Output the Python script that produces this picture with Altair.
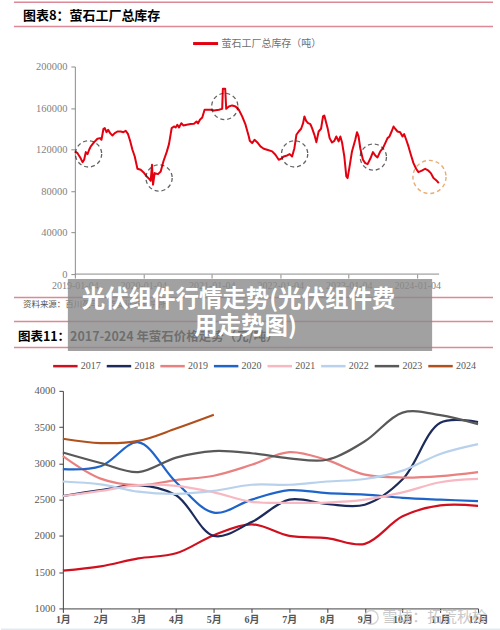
import altair as alt
import pandas as pd

# ---------------- top chart: fluorite plant inventory (tons) ----------------
inv_t = [
    2019.000, 2019.039, 2019.078, 2019.112, 2019.136, 2019.160, 2019.185, 2019.209, 2019.233, 2019.282,
    2019.330, 2019.369, 2019.389, 2019.418, 2019.437, 2019.462, 2019.486, 2019.515, 2019.549, 2019.583,
    2019.622, 2019.671, 2019.710, 2019.743, 2019.777, 2019.807, 2019.841, 2019.875, 2019.914, 2019.962,
    2020.001, 2020.050, 2020.084, 2020.108, 2020.127, 2020.142, 2020.166, 2020.215, 2020.254, 2020.293,
    2020.341, 2020.375, 2020.414, 2020.448, 2020.472, 2020.497, 2020.521, 2020.555, 2020.584, 2020.633,
    2020.691, 2020.740, 2020.778, 2020.798, 2020.827, 2020.861, 2020.895, 2020.934, 2020.983, 2021.031,
    2021.104, 2021.152, 2021.162, 2021.196, 2021.211, 2021.250, 2021.298, 2021.347, 2021.395, 2021.444,
    2021.493, 2021.541, 2021.555, 2021.590, 2021.624, 2021.663, 2021.711, 2021.759, 2021.809, 2021.882,
    2021.930, 2021.978, 2022.013, 2022.051, 2022.101, 2022.138, 2022.173, 2022.207, 2022.236, 2022.270,
    2022.305, 2022.334, 2022.353, 2022.378, 2022.407, 2022.440, 2022.465, 2022.499, 2022.528, 2022.561,
    2022.596, 2022.625, 2022.644, 2022.673, 2022.692, 2022.721, 2022.756, 2022.790, 2022.819, 2022.853,
    2022.878, 2022.902, 2022.936, 2022.965, 2022.984, 2023.013, 2023.048, 2023.096, 2023.121, 2023.144,
    2023.169, 2023.208, 2023.242, 2023.276, 2023.315, 2023.354, 2023.388, 2023.421, 2023.461, 2023.500,
    2023.534, 2023.567, 2023.596, 2023.631, 2023.655, 2023.679, 2023.713, 2023.752, 2023.786, 2023.810,
    2023.840, 2023.873, 2023.908, 2023.946, 2023.985, 2024.019, 2024.068, 2024.117, 2024.165, 2024.200,
    2024.238, 2024.287, 2024.316,
]
inv_value = [
    118200, 116500, 112400, 107900, 110200, 117500, 115600, 119800, 123000, 127100,
    130400, 131000, 129400, 140000, 140600, 136700, 139000, 135800, 133600, 135800,
    137400, 137400, 136700, 138100, 134800, 128400, 119800, 113300, 101500, 100500,
    98200, 94100, 91900, 89900, 105300, 86100, 97300, 96300, 98900, 108500,
    117500, 125200, 140600, 142200, 141300, 143900, 141300, 145400, 143200, 143900,
    144500, 144800, 147000, 145100, 148700, 150900, 158300, 158300, 158300, 157600,
    158300, 159200, 178500, 178500, 159200, 161500, 162500, 161500, 158300, 151900,
    143900, 132600, 128400, 126200, 129400, 127100, 123000, 120800, 119800, 118200,
    115000, 110200, 111100, 113300, 114300, 115600, 113300, 121300, 134200, 137400,
    140000, 145400, 151900, 147700, 145400, 144500, 140600, 134200, 127100, 137400,
    140000, 151900, 152800, 145400, 140600, 131000, 126800, 128400, 132600, 127800,
    132600, 127100, 113300, 94100, 92500, 103700, 118200, 129400, 136700, 132600,
    121300, 110200, 106900, 105900, 111100, 117500, 114300, 112400, 118200, 121300,
    126200, 131000, 132600, 138100, 142200, 140000, 137400, 136700, 132600, 134800,
    129400, 123000, 115000, 106900, 101500, 98200, 99600, 101500, 99600, 97300,
    92500, 89900, 87600,
]
inv_series = "萤石工厂总库存（吨）"
year_ticks = [2019, 2020, 2021, 2022, 2023, 2024]

# dashed annotation circles (centre in data coordinates)
circle_t = [2019.20, 2020.23, 2021.19, 2022.21, 2023.36]
circle_v = [115800, 92600, 161500, 115800, 112700]
circle_now_t = [2024.18]
circle_now_v = [93600]

# ---------------- bottom chart: fluorite price 2017-2024 ----------------
months = ["1月", "2月", "3月", "4月", "5月", "6月", "7月", "8月", "9月", "10月", "11月", "12月"]
years = ["2017", "2018", "2019", "2020", "2021", "2022", "2023", "2024"]
p2017 = [1520, 1580, 1690, 1760, 2010, 2160, 2000, 1970, 1890, 2270, 2420, 2415]
p2018 = [2550, 2630, 2700, 2560, 2000, 2190, 2500, 2440, 2430, 2780, 3560, 3570]
p2019 = [3100, 2790, 2700, 2770, 2830, 2980, 3155, 3045, 2845, 2805, 2825, 2880]
p2020 = [2920, 2960, 3290, 2740, 2320, 2500, 2630, 2590, 2570, 2525, 2500, 2480]
p2021 = [2550, 2620, 2700, 2690, 2600, 2470, 2455, 2460, 2500, 2600, 2740, 2785]
p2022 = [2750, 2710, 2610, 2580, 2620, 2705, 2705, 2750, 2785, 2900, 3130, 3265]
p2023 = [3150, 3005, 2880, 3080, 3170, 3140, 3070, 3050, 3305, 3700, 3665, 3540]
p2024 = [3340, 3280, 3310, 3480, 3670]
year_colors = ["#d0101e", "#1c2b5c", "#e8817f", "#1f64c8", "#f7b8c2", "#b8d1ec", "#595959", "#b0501c"]

price_rows = []
for yr, vals in zip(years, [p2017, p2018, p2019, p2020, p2021, p2022, p2023, p2024]):
    for m, v in zip(months, vals):
        price_rows.append({"month": m, "year": yr, "price": v})
price_df = pd.DataFrame(price_rows)

inv_df = pd.DataFrame({"t": inv_t, "v": inv_value, "s": inv_series})
circ_df = pd.DataFrame({"t": circle_t, "v": circle_v})
circ_now_df = pd.DataFrame({"t": circle_now_t, "v": circle_now_v})
one = pd.DataFrame({"k": [0]})

SERIF = "Liberation Serif, Noto Sans CJK SC, serif"
CJK = "Noto Sans CJK SC, sans-serif"
PINK = "#dc8896"
GRAY_LBL = "#7f7f7f"

# both panels share the plot-area origin x (column alignment); the top
# panel's own axis sits 12px inside it.
W1, H1 = 377, 208
W2, H2 = 416, 218
X0_TOP = 2019 - 12 / 68.6
X1_TOP = X0_TOP + W1 / 68.6


def rule(x1, x2, y, color=PINK, width=1.5):
    return alt.Chart(one).mark_rule(color=color, strokeWidth=width).encode(
        x=alt.value(x1), x2=alt.value(x2), y=alt.value(y))


def label(txt, x, y, size, color="#000000", weight="normal", align="left", font=CJK, opacity=1.0):
    return alt.Chart(one).mark_text(
        text=txt, align=align, baseline="middle", fontSize=size, fontWeight=weight,
        font=font, color=color, opacity=opacity).encode(x=alt.value(x), y=alt.value(y))


# ---- top chart layers ----
x_top = alt.X("t:Q", scale=alt.Scale(domain=[X0_TOP, X1_TOP], nice=False, zero=False),
              axis=alt.Axis(values=year_ticks, labelExpr="datum.value + '-01-04'", title=None,
                            grid=False, domain=False, tickSize=4, labelPadding=2,
                            tickColor="#8c8c8c", labelColor=GRAY_LBL, labelFont=SERIF,
                            labelFontSize=10, labelOverlap=False, labelFlush=False))
y_top = alt.Y("v:Q", scale=alt.Scale(domain=[0, 200000], nice=False),
              axis=alt.Axis(values=list(range(0, 200001, 20000)), format="d", title=None, grid=False,
                            offset=-12, tickSize=4, labelPadding=4, domainColor="#8c8c8c",
                            tickColor="#8c8c8c", labelColor=GRAY_LBL, labelFont=SERIF,
                            labelFontSize=10.5))

inv_line = alt.Chart(inv_df).mark_line(strokeWidth=2, strokeJoin="round").encode(
    x=x_top, y=y_top,
    color=alt.Color("s:N", scale=alt.Scale(range=["#e3000f"]),
                    legend=alt.Legend(orient="none", legendX=129, legendY=-37, title=None,
                                      symbolType="stroke", symbolSize=625, symbolStrokeWidth=3,
                                      labelFont=SERIF, labelFontSize=10,
                                      labelColor="#6f6f6f", labelOffset=2, padding=0)))

circ_old = alt.Chart(circ_df).mark_point(shape="circle", filled=False, color="#222222",
                                         strokeWidth=1.3, strokeDash=[4, 3], size=690).encode(
    x="t:Q", y="v:Q")
circ_now = alt.Chart(circ_now_df).mark_point(shape="circle", filled=False, color="#e0893a",
                                             strokeWidth=1.4, strokeDash=[4, 3], size=1100).encode(
    x="t:Q", y="v:Q")

top = alt.layer(
    rule(-49, 431, -64.5),
    label("图表8：萤石工厂总库存", -40, -51, 13, weight="bold"),
    rule(-49, 431, -40),
    rule(12, W1, H1, color="#8c8c8c", width=1),
    inv_line, circ_old, circ_now,
    rule(-49, 431, 231.5),
    label("资料来源：百川盈孚，华安证券研究所", -40, 238, 8.5, color="#555555"),
    rule(-49, 431, 255.5),
    label("图表11：2017-2024 年萤石价格走势（元/吨）", -45, 271, 12.5, weight="bold"),
    rule(-49, 431, 281.5),
    alt.Chart(one).mark_rect(color="#8a8a8a", opacity=0.8).encode(
        x=alt.value(5), x2=alt.value(370), y=alt.value(213), y2=alt.value(285)),
    label("光伏组件行情走势(光伏组件费", 176, 234, 23.5, color="#ffffff", weight="bold", align="center"),
    label("用走势图)", 183, 261, 23.5, color="#ffffff", weight="bold", align="center"),
).properties(width=W1, height=H1)

# ---- bottom chart layers ----
price_line = alt.Chart(price_df).mark_line(strokeWidth=2.2, interpolate="catmull-rom").encode(
    x=alt.X("month:N", sort=months, scale=alt.Scale(type="point", padding=0),
            axis=alt.Axis(title=None, labelAngle=0, tickSize=4, labelPadding=2, domainColor="#404040",
                          tickColor="#404040", labelColor="#555555", labelFont=SERIF,
                          labelFontSize=10, labelFontWeight="bold", labelFlush=False)),
    y=alt.Y("price:Q", scale=alt.Scale(domain=[1000, 4000], nice=False, zero=False),
            axis=alt.Axis(values=list(range(1000, 4001, 500)), format="d", title=None, grid=False,
                          tickSize=4, labelPadding=4, domainColor="#404040", tickColor="#404040",
                          labelColor="#595959", labelFont=SERIF, labelFontSize=10.5)),
    color=alt.Color("year:N", sort=years, scale=alt.Scale(domain=years, range=year_colors),
                    legend=alt.Legend(orient="none", legendX=-11, legendY=-38.5, title=None,
                                      direction="horizontal", columns=8, symbolType="stroke",
                                      symbolSize=600, symbolStrokeWidth=2.5, labelFont=SERIF,
                                      labelFontSize=10, labelColor="#595959", labelOffset=2,
                                      columnPadding=0.7, padding=0, labelLimit=40)),
    order=alt.Order("year:N"),
)

bottom = alt.layer(
    rule(-62, -61, -39.5, color="#ffffff", width=1),
    price_line,
    label("雪球：拓荒秋检", 320, 227, 15, color="#c4c4c4", opacity=0.9),
    alt.Chart(one).mark_point(shape="circle", filled=False, color="#c4c4c4", size=190,
                              strokeWidth=1.5).encode(x=alt.value(309), y=alt.value(227)),
    alt.Chart(one).mark_rect(color="#e4e9ef").encode(
        x=alt.value(-62), x2=alt.value(438), y=alt.value(238), y2=alt.value(242)),
).properties(width=W2, height=H2)

chart = alt.vconcat(top, bottom, spacing=0).resolve_scale(color="independent").resolve_legend(
    color="independent").properties(
    padding={"left": 0, "top": 0, "right": 0, "bottom": 0}).configure_view(stroke=None)

chart.save("out.html", embed_options={"renderer": "svg", "actions": False})
